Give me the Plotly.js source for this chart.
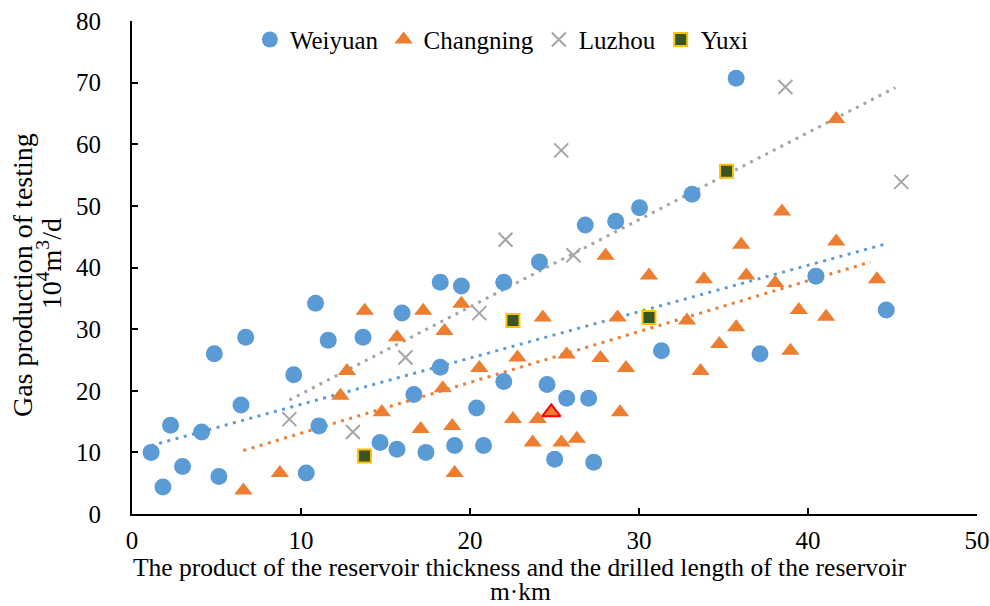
<!DOCTYPE html>
<html>
<head>
<meta charset="utf-8">
<script src="https://cdn.plot.ly/plotly-3.0.1.min.js"></script>
<style>html,body{margin:0;padding:0;background:#fff;}#chart{width:990px;height:606px;}</style>
</head>
<body>
<div id="chart"></div>
<script>
// Weiyuan
const weiyuanX = [1.13,1.83,2.28,2.99,4.12,4.87,5.14,6.45,6.73,9.57,10.31,10.86,11.06,11.61,13.67,14.68,15.68,15.98,16.68,17.39,18.24,18.24,19.09,19.49,20.39,20.80,22.00,22.00,24.11,24.56,25.01,25.72,26.82,27.02,27.32,28.62,30.03,31.33,33.14,35.75,37.16,40.47,44.63];
const weiyuanY = [10.0,4.4,14.4,7.7,13.3,26.0,6.1,17.7,28.7,22.6,6.65,34.2,14.3,28.2,28.7,11.6,10.5,32.6,19.4,10.0,37.6,23.8,11.1,37.0,17.2,11.1,37.6,21.5,40.9,21.0,8.9,18.8,46.9,18.8,8.4,47.5,49.7,26.5,51.9,70.7,26.0,38.6,33.1];
// Changning
const changningX = [6.59,8.75,12.33,12.72,13.77,14.78,15.68,17.08,17.23,18.39,18.49,18.95,19.09,19.49,20.55,22.54,22.81,23.71,24.01,24.31,25.41,25.72,26.32,27.72,28.02,28.73,28.88,29.23,30.59,32.84,33.64,33.84,34.75,35.75,36.05,36.35,38.06,38.46,38.96,39.46,41.07,41.67,41.67,44.08];
const changningY = [3.8,6.65,19.2,23.2,33.0,16.5,28.7,13.8,33.0,20.4,29.7,14.3,6.65,34.1,23.7,15.4,25.4,11.6,15.4,31.9,11.6,25.9,12.2,25.3,41.9,31.9,16.5,23.7,38.7,31.4,23.2,38.1,27.6,30.3,43.7,38.7,37.5,49.1,26.5,33.1,32.0,44.2,64.1,38.1];
// Changning highlighted well
const changningRedX = [24.81];
const changningRedY = [16.5];
// Luzhou
const luzhouX = [9.31,13.07,16.18,20.55,22.10,25.40,26.12,38.66,45.52];
const luzhouY = [15.4,13.3,25.4,32.6,44.5,59.0,42.0,69.3,53.9];
// Yuxi
const yuxiX = [13.76,22.54,30.59,35.18];
const yuxiY = [9.4,31.4,31.9,55.6];
// Trend lines (endpoints)
const weiyuanTrendX = [1.12,44.57];
const weiyuanTrendY = [11.1,43.8];
const changningTrendX = [6.59,43.7];
const changningTrendY = [10.3,40.9];
const luzhouTrendX = [9.31,45.17];
const luzhouTrendY = [18.5,69.2];
// Axis ticks
const xTicks = [0,10,20,30,40,50];
const yTicks = [0,10,20,30,40,50,60,70,80];

const FONT = 'Liberation Serif';
const blue = '#5B9BD5', orange = '#ED7D31', gray = '#A5A5A5';
const dotDash = '3px,5.5px';

const traces = [
  {x: weiyuanTrendX, y: weiyuanTrendY, mode: 'lines', line: {color: blue, width: 3, dash: dotDash}, showlegend: false, hoverinfo: 'skip'},
  {x: changningTrendX, y: changningTrendY, mode: 'lines', line: {color: orange, width: 3, dash: dotDash}, showlegend: false, hoverinfo: 'skip'},
  {x: luzhouTrendX, y: luzhouTrendY, mode: 'lines', line: {color: gray, width: 3, dash: dotDash}, showlegend: false, hoverinfo: 'skip'},
  {x: weiyuanX, y: weiyuanY, mode: 'markers', name: 'Weiyuan', marker: {symbol: 'circle', size: 17, color: blue}},
  {x: changningX, y: changningY, mode: 'markers', name: 'Changning', marker: {symbol: 'triangle-up', size: 16, color: orange}},
  {x: changningRedX, y: changningRedY, mode: 'markers', showlegend: false, marker: {symbol: 'triangle-up', size: 16, color: orange, line: {color: '#FF0000', width: 2}}},
  {x: luzhouX, y: luzhouY, mode: 'markers', name: 'Luzhou', marker: {symbol: 'x-thin', size: 14, color: gray, line: {color: gray, width: 2}}},
  {x: yuxiX, y: yuxiY, mode: 'markers', name: 'Yuxi', marker: {symbol: 'square', size: 13, color: '#375623', line: {color: '#FFC000', width: 2}}}
];

const layout = {
  width: 990, height: 606,
  margin: {l: 131.7, r: 13.3, t: 20.5, b: 91.5},
  paper_bgcolor: '#fff', plot_bgcolor: '#fff',
  font: {family: FONT, size: 25, color: '#000'},
  showlegend: true,
  legend: {orientation: 'h', x: 0.1395, xanchor: 'left', y: 0.962, yanchor: 'middle', bgcolor: 'rgba(0,0,0,0)', font: {family: FONT, size: 25, color: '#000'}, traceorder: 'normal'},
  xaxis: {range: [0,50], tickvals: xTicks, ticktext: xTicks.map(String), ticks: 'inside', ticklen: 6, tickwidth: 2, tickcolor: '#000', showline: true, linecolor: '#000', linewidth: 2, showgrid: false, zeroline: false, ticklabelstandoff: 3, tickfont: {family: FONT, size: 25, color: '#000'}, fixedrange: true},
  yaxis: {range: [0,80], tickvals: yTicks, ticktext: yTicks.map(String), ticks: 'inside', ticklen: 6, tickwidth: 2, tickcolor: '#000', showline: true, linecolor: '#000', linewidth: 2, showgrid: false, zeroline: false, ticklabelstandoff: 24, tickfont: {family: FONT, size: 25, color: '#000'}, fixedrange: true},
  annotations: [
    {text: 'The product of the reservoir thickness and the drilled length of the reservoir', xref: 'paper', yref: 'paper', x: 0.4595, y: -0.1083, xanchor: 'center', yanchor: 'middle', showarrow: false, font: {family: FONT, size: 25.5, color: '#000'}},
    {text: 'm·km', xref: 'paper', yref: 'paper', x: 0.4595, y: -0.1569, xanchor: 'center', yanchor: 'middle', showarrow: false, font: {family: FONT, size: 25.5, color: '#000'}},
    {text: 'Gas production of testing', xref: 'paper', yref: 'paper', x: -0.1295, y: 0.4838, xanchor: 'center', yanchor: 'middle', textangle: -90, showarrow: false, font: {family: FONT, size: 28, color: '#000'}},
    {text: '10<sup>4</sup>m<sup>3</sup>/d', xref: 'paper', yref: 'paper', x: -0.0975, y: 0.5079, xanchor: 'center', yanchor: 'middle', textangle: -90, showarrow: false, font: {family: FONT, size: 28, color: '#000'}}
  ]
};

Plotly.newPlot('chart', traces, layout, {displayModeBar: false, staticPlot: true});
</script>
</body>
</html>
